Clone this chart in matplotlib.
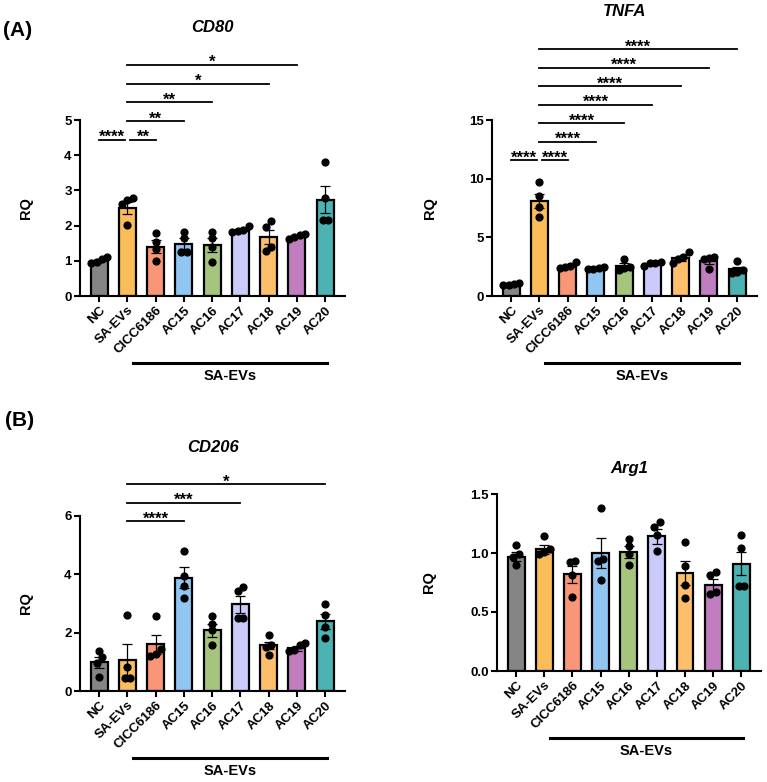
import numpy as np
import matplotlib.pyplot as plt
from matplotlib import transforms

plt.rcParams['font.family'] = ['Liberation Sans', 'DejaVu Sans']
plt.rcParams['font.weight'] = 'bold'

groups = ['NC', 'SA-EVs', 'CICC6186', 'AC15', 'AC16', 'AC17', 'AC18', 'AC19', 'AC20']
colors = ['#858585', '#FBBD5A', '#F99678', '#91C6F3', '#A5C57C',
          '#CBCBFB', '#FDBF6C', '#C07DC0', '#4CB2B2']

# CD80
cd80_mean = [1.00, 2.50, 1.40, 1.49, 1.45, 1.85, 1.68, 1.69, 2.74]
cd80_sem = [0.04, 0.17, 0.18, 0.15, 0.20, 0.04, 0.20, 0.04, 0.38]
cd80_points = [[1.10, 1.05, 0.97, 0.93], [2.78, 2.74, 2.60, 2.01],
               [1.78, 1.54, 1.33, 0.99], [1.83, 1.64, 1.26, 1.26],
               [1.83, 1.64, 1.40, 0.96], [2.00, 1.87, 1.85, 1.83],
               [2.14, 1.97, 1.40, 1.29], [1.76, 1.73, 1.68, 1.62],
               [3.81, 2.77, 2.17, 2.17]]
cd80_sig = [(0, 1, '****'), (1, 2, '**'), (1, 3, '**'), (1, 4, '**'),
            (1, 6, '*'), (1, 7, '*')]

# TNFA
tnfa_mean = [1.00, 8.10, 2.50, 2.36, 2.55, 2.75, 3.22, 3.00, 2.28]
tnfa_sem = [0.05, 0.63, 0.11, 0.04, 0.22, 0.08, 0.20, 0.24, 0.22]
tnfa_points = [[1.10, 1.02, 0.95, 0.90], [9.74, 8.52, 7.60, 6.76],
               [2.87, 2.56, 2.44, 2.36], [2.45, 2.36, 2.32, 2.30],
               [3.12, 2.50, 2.36, 2.20], [2.93, 2.84, 2.78, 2.56],
               [3.78, 3.30, 3.12, 2.78], [3.35, 3.20, 3.12, 2.30],
               [2.98, 2.20, 2.07, 1.99]]
tnfa_sig = [(0, 1, '****'), (1, 2, '****'), (1, 3, '****'), (1, 4, '****'),
            (1, 5, '****'), (1, 6, '****'), (1, 7, '****'), (1, 8, '****')]

# CD206
cd206_mean = [0.98, 1.07, 1.60, 3.88, 2.08, 2.98, 1.57, 1.46, 2.39]
cd206_sem = [0.19, 0.53, 0.33, 0.36, 0.22, 0.29, 0.12, 0.08, 0.26]
cd206_points = [[1.36, 1.15, 0.95, 0.49], [2.61, 0.81, 0.43, 0.43],
                [2.56, 1.45, 1.28, 1.19], [4.80, 3.96, 3.60, 3.20],
                [2.57, 2.31, 2.08, 1.59], [3.56, 3.44, 2.50, 2.50],
                [1.91, 1.57, 1.51, 1.22], [1.63, 1.59, 1.40, 1.36],
                [2.99, 2.61, 2.19, 1.82]]
cd206_sig = [(1, 3, '****'), (1, 5, '***'), (1, 8, '*')]

# Arg1
arg1_mean = [0.97, 1.03, 0.82, 1.00, 1.01, 1.14, 0.83, 0.73, 0.91]
arg1_sem = [0.04, 0.04, 0.07, 0.13, 0.05, 0.06, 0.10, 0.05, 0.10]
arg1_points = [[1.07, 0.99, 0.97, 0.90], [1.14, 1.03, 1.01, 0.99],
               [0.93, 0.92, 0.81, 0.63], [1.38, 0.95, 0.93, 0.77],
               [1.12, 1.06, 0.99, 0.90], [1.26, 1.22, 1.15, 1.02],
               [1.09, 0.89, 0.73, 0.62], [0.84, 0.81, 0.67, 0.65],
               [1.15, 1.04, 0.72, 0.72]]

W, H = 767, 782
fig = plt.figure(figsize=(W / 100, H / 100), dpi=100)


def px_axes(x0, y0, x1, y1):
    # axes box given in pixel coords (top-left origin)
    return fig.add_axes([x0 / W, 1 - y1 / H, (x1 - x0) / W, (y1 - y0) / H])


def spread_x(ax, xc, vals, dot_px=6.0, step=0.19):
    # group dots that would overlap and fan them out around the bar centre
    ys = ax.transData.transform(np.column_stack([np.full(len(vals), xc), vals]))[:, 1]
    order = np.argsort(ys)
    clusters = [[order[0]]]
    for i in order[1:]:
        if ys[i] - ys[clusters[-1][-1]] < dot_px:
            clusters[-1].append(i)
        else:
            clusters.append([i])
    xs = np.zeros(len(vals))
    for c in clusters:
        n = len(c)
        for k, i in enumerate(c):
            xs[i] = xc + (k - (n - 1) / 2) * step
    return xs


def draw_panel(ax, title, title_xy, mean, sem, points, ylim, yticks, ylabel_x,
               tick_fmt='{:g}', sig=None, sig_base=0, sig_step=0):
    x = np.arange(len(groups))
    ax.set_xlim(-0.68, 8.7)
    ax.set_ylim(*ylim)
    ax.bar(x, mean, width=0.6, color=colors, edgecolor='black', linewidth=1.6, zorder=2)
    ax.errorbar(x, mean, yerr=sem, fmt='none', ecolor='black', elinewidth=0.9,
                capsize=3.5, capthick=0.9, zorder=3)
    for i, pts in enumerate(points):
        xs = spread_x(ax, i, pts)
        ax.scatter(xs, pts, s=24, color='black', zorder=4, clip_on=False)

    for side in ['top', 'right']:
        ax.spines[side].set_visible(False)
    for side in ['left', 'bottom']:
        ax.spines[side].set_linewidth(1.5)
    ax.set_yticks(yticks)
    ax.set_yticklabels([tick_fmt.format(t) for t in yticks], fontsize=9.5, fontweight='bold')
    ax.set_xticks(x)
    ax.set_xticklabels(groups, rotation=45, ha='right', rotation_mode='anchor',
                       fontsize=9.5, fontweight='bold')
    ax.tick_params(direction='out', length=4, width=1.5, pad=2)
    ax.set_ylabel('RQ', fontsize=10.5, fontweight='bold')
    ax.yaxis.set_label_coords(ylabel_x, 0.5)

    fig.text(title_xy[0] / W, 1 - title_xy[1] / H, title, fontsize=12,
             fontweight='bold', fontstyle='italic', ha='center', va='center')

    # group bar under the treated samples
    shift = transforms.ScaledTranslation(0, -67 / 100, fig.dpi_scale_trans)
    trans = ax.get_xaxis_transform() + shift
    ax.plot([1.2, 8.05], [0, 0], color='black', lw=2.2, transform=trans, clip_on=False)
    ax.text(4.62, 0, 'SA-EVs', transform=ax.get_xaxis_transform() +
            transforms.ScaledTranslation(0, -73 / 100, fig.dpi_scale_trans),
            ha='center', va='top', fontsize=10.5, fontweight='bold')

    if sig:
        has_adj = any(b - a == 1 for a, b, _ in sig)
        lvl = 1 if has_adj else 0
        for a, b, lab in sig:
            if b - a == 1:
                y = sig_base
                x1, x2 = (a, b - 0.1) if a == 0 else (a + 0.1, b)
            else:
                y = sig_base + lvl * sig_step
                lvl += 1
                x1, x2 = a, b
            ax.plot([x1, x2], [y, y], color='black', lw=1.3, clip_on=False)
            ax.annotate(lab, xy=((x1 + x2) / 2, y), xytext=(0, -1.5),
                        textcoords='offset points', ha='center', va='baseline',
                        fontsize=12, fontweight='bold', annotation_clip=False)


ax1 = px_axes(80, 120, 345, 296)
draw_panel(ax1, 'CD80', (212, 28), cd80_mean, cd80_sem, cd80_points,
           (0, 5), [0, 1, 2, 3, 4, 5], -0.177,
           sig=cd80_sig, sig_base=4.43, sig_step=0.535)

ax2 = px_axes(492, 120, 757, 296)
draw_panel(ax2, 'TNFA', (625, 11), tnfa_mean, tnfa_sem, tnfa_points,
           (0, 15), [0, 5, 10, 15], -0.208,
           sig=tnfa_sig, sig_base=11.55, sig_step=1.58)

ax3 = px_axes(80, 516, 345, 691)
draw_panel(ax3, 'CD206', (213, 447), cd206_mean, cd206_sem, cd206_points,
           (0, 6), [0, 2, 4, 6], -0.177,
           sig=cd206_sig, sig_base=5.82, sig_step=0.635)

ax4 = px_axes(497, 494, 761, 671)
draw_panel(ax4, 'Arg1', (629, 468), arg1_mean, arg1_sem, arg1_points,
           (0, 1.5), [0, 0.5, 1.0, 1.5], -0.231, tick_fmt='{:.1f}')

fig.text(3 / W, 1 - 30 / H, '(A)', fontsize=15, fontweight='bold', ha='left', va='center')
fig.text(5 / W, 1 - 420 / H, '(B)', fontsize=15, fontweight='bold', ha='left', va='center')

fig.savefig('out.png', dpi=100)
